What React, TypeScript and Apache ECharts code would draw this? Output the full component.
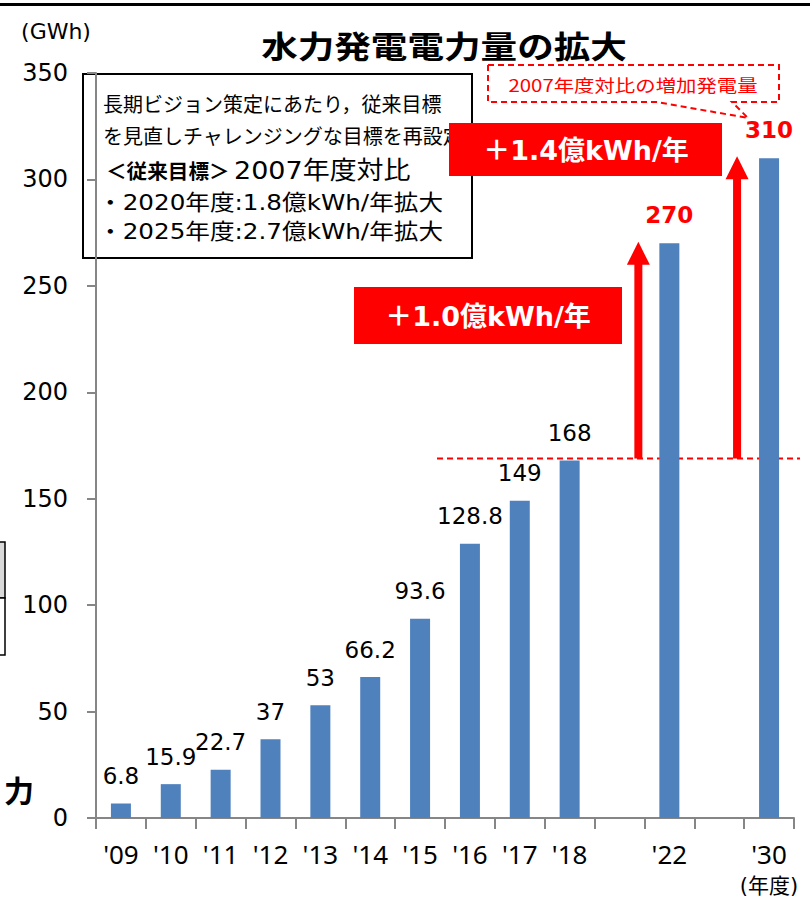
import React, { useEffect, useRef } from "react";
import * as echarts from "echarts";

const categories = ["'09", "'10", "'11", "'12", "'13", "'14", "'15", "'16", "'17", "'18", "", "'22", "", "'30"];
const actualValues: (number | null)[] = [6.8, 15.9, 22.7, 37, 53, 66.2, 93.6, 128.8, 149, 168, null, null, null, null];
const targetValues: (number | null)[] = [null, null, null, null, null, null, null, null, null, null, null, 270, null, 310];
const yTicks = { min: 0, max: 350, interval: 50 };
const baseValue = 168;
const titleText = "水力発電電力量の拡大";
const unitText = "(GWh)";
const yearText = "(年度)";
const noteLines = [
  "長期ビジョン策定にあたり，従来目標",
  "を見直しチャレンジングな目標を再設定",
];
const noteTarget = ["＜従来目標＞", "2007年度対比"];
const noteBullets = ["・2020年度:1.8億kWh/年拡大", "・2025年度:2.7億kWh/年拡大"];
const increaseLabels = ["＋1.0億kWh/年", "＋1.4億kWh/年"];
const calloutText = "2007年度対比の増加発電量";

const W = 810;
const H = 906;
const G = { left: 96, right: 16, top: 73, bottom: 88 };
const plotL = G.left;
const plotR = W - G.right;
const plotT = G.top;
const plotB = H - G.bottom;
const catW = (plotR - plotL) / categories.length;
const xOf = (i: number) => plotL + (i + 0.5) * catW;
const yOf = (v: number) => plotB - (v / yTicks.max) * (plotB - plotT);

const NUM = "DejaVu Sans";
const JP = "Noto Sans CJK JP";
const MIX = NUM + ", " + JP;
const BLUE = "#4F81BD";
const RED = "#FF0000";
const GRAY = "#868686";

function arrowPts(x: number, yBase: number, yTip: number) {
  const sw = 4;
  const hw = 11.5;
  const hh = 23;
  return [
    [x - sw, yBase],
    [x - sw, yTip + hh],
    [x - hw, yTip + hh],
    [x, yTip],
    [x + hw, yTip + hh],
    [x + sw, yTip + hh],
    [x + sw, yBase],
  ];
}

export default function App() {
  const ref = useRef<HTMLDivElement>(null);
  useEffect(() => {
    if (!ref.current) return;
    const chart = echarts.init(ref.current, null, { renderer: "svg" });
    const i22 = categories.indexOf("'22");
    const i30 = categories.indexOf("'30");
    const yBase = yOf(baseValue) - 2;
    const option: any = {
      animation: false,
      backgroundColor: "#fff",
      grid: { left: G.left, right: G.right, top: G.top, bottom: G.bottom, containLabel: false },
      xAxis: {
        type: "category",
        data: categories,
        axisLine: { show: true, lineStyle: { color: GRAY, width: 2 } },
        axisTick: { show: true, interval: 0, length: 11, lineStyle: { color: GRAY, width: 2 } },
        axisLabel: { interval: 0, margin: 23, fontSize: 26, color: "#000", fontFamily: "Noto Sans" },
      },
      yAxis: {
        type: "value",
        min: yTicks.min,
        max: yTicks.max,
        interval: yTicks.interval,
        axisLine: { show: true, lineStyle: { color: GRAY, width: 2 } },
        axisTick: { show: true, length: 9, lineStyle: { color: GRAY, width: 2 } },
        splitLine: { show: false },
        axisLabel: { margin: 28, fontSize: 24, color: "#000", fontFamily: NUM },
      },
      series: [
        {
          type: "bar",
          data: actualValues.map((v) => (v === null ? "-" : v)),
          barWidth: 20,
          barGap: "-100%",
          itemStyle: { color: BLUE },
          label: { show: true, position: "top", distance: 16, fontSize: 23, color: "#000", fontFamily: NUM },
        },
        {
          type: "bar",
          data: targetValues.map((v) => (v === null ? "-" : v)),
          barWidth: 20,
          barGap: "-100%",
          itemStyle: { color: BLUE },
          label: { show: true, position: "top", distance: 17, fontSize: 23, fontWeight: "bold", color: RED, fontFamily: NUM },
        },
      ],
      graphic: [
        { type: "line", shape: { x1: 0, y1: 4.5, x2: W, y2: 4.5 }, style: { stroke: "#000", lineWidth: 3 } },
        {
          type: "text", x: 444, y: 45, scaleX: 1.18,
          style: { text: titleText, fontFamily: JP, fontSize: 31, fontWeight: "bold", fill: "#000", textAlign: "center", textVerticalAlign: "middle" },
        },
        { type: "text", x: 56, y: 31, style: { text: unitText, fontFamily: NUM, fontSize: 22, fill: "#000", textAlign: "center", textVerticalAlign: "middle" } },
        {
          type: "text", x: 769, y: 886,
          style: { text: yearText, fontFamily: MIX, fontSize: 21, fill: "#000", textAlign: "center", textVerticalAlign: "middle" },
        },
        // left-edge fragments of neighbouring slide content
        { type: "rect", shape: { x: -2, y: 542, width: 7, height: 56 }, style: { fill: "#D9D9D9", stroke: "#000", lineWidth: 1.5 } },
        { type: "rect", shape: { x: -2, y: 598, width: 7, height: 57 }, style: { fill: "#fff", stroke: "#000", lineWidth: 1.5 } },
        { type: "text", x: 19, y: 789, style: { text: "力", fontFamily: JP, fontSize: 30, fontWeight: "bold", fill: "#000", textAlign: "center", textVerticalAlign: "middle" } },
        // note box
        { type: "rect", shape: { x: 83, y: 74, width: 389, height: 184 }, style: { fill: "#fff", stroke: "#000", lineWidth: 2 } },
        { type: "text", x: 103, y: 103, style: { text: noteLines[0], fontFamily: JP, fontSize: 20, fill: "#000", textVerticalAlign: "middle" } },
        { type: "text", x: 103, y: 135, style: { text: noteLines[1], fontFamily: JP, fontSize: 20, fill: "#000", textVerticalAlign: "middle" } },
        {
          type: "text", x: 106, y: 170, scaleX: 1.03,
          style: { text: noteTarget[0], fontFamily: JP, fontSize: 20, fontWeight: "bold", fill: "#000", textVerticalAlign: "middle" },
        },
        {
          type: "text", x: 234, y: 170, scaleX: 1.08,
          style: { text: noteTarget[1], fontFamily: MIX, fontSize: 25, fill: "#000", textVerticalAlign: "middle" },
        },
        {
          type: "text", x: 98, y: 202, scaleX: 1.12,
          style: { text: noteBullets[0], fontFamily: MIX, fontSize: 22, fill: "#000", textVerticalAlign: "middle" },
        },
        {
          type: "text", x: 98, y: 231, scaleX: 1.12,
          style: { text: noteBullets[1], fontFamily: MIX, fontSize: 22, fill: "#000", textVerticalAlign: "middle" },
        },
        // red increase boxes
        { type: "rect", shape: { x: 354, y: 287, width: 268, height: 57 }, style: { fill: RED } },
        {
          type: "text", x: 488, y: 316,
          style: { text: increaseLabels[0], fontFamily: MIX, fontSize: 27, fontWeight: "bold", fill: "#fff", textAlign: "center", textVerticalAlign: "middle" },
        },
        { type: "rect", shape: { x: 449, y: 123, width: 273, height: 53 }, style: { fill: RED } },
        {
          type: "text", x: 586, y: 150,
          style: { text: increaseLabels[1], fontFamily: MIX, fontSize: 27, fontWeight: "bold", fill: "#fff", textAlign: "center", textVerticalAlign: "middle" },
        },
        // base dashed line
        { type: "line", shape: { x1: 437, y1: yBase, x2: 800, y2: yBase }, style: { stroke: RED, lineWidth: 2, lineDash: [6, 4] } },
        // arrows
        { type: "polygon", shape: { points: arrowPts(xOf(i22) - 31, yBase, yOf(270) - 1.5) }, style: { fill: RED } },
        { type: "polygon", shape: { points: arrowPts(xOf(i30) - 32, yBase, yOf(310) - 2) }, style: { fill: RED } },
        // callout
        {
          type: "polygon",
          shape: { points: [[488, 65], [779, 65], [779, 102], [732, 102], [748, 118], [657, 102], [488, 102]] },
          style: { fill: "#fff", stroke: RED, lineWidth: 2, lineDash: [6, 4] },
        },
        {
          type: "text", x: 633, y: 84, scaleX: 1.2,
          style: { text: calloutText, fontFamily: JP, fontSize: 17, fill: RED, textAlign: "center", textVerticalAlign: "middle" },
        },
      ],
    };
    chart.setOption(option);
    return () => chart.dispose();
  }, []);
  return <div ref={ref} style={{ position: "absolute", left: 0, top: 0, width: W, height: H }} />;
}
